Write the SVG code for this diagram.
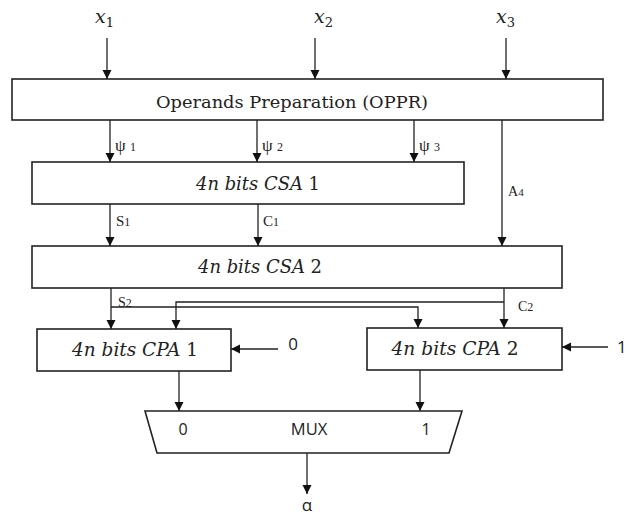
<svg xmlns="http://www.w3.org/2000/svg" width="629" height="516" viewBox="0 0 629 516">
<defs>
<marker id="ah" viewBox="0 0 10 10" refX="10" refY="5" markerWidth="9" markerHeight="10" markerUnits="userSpaceOnUse" orient="auto">
<path d="M0,0 L10,5 L0,10 z" fill="#111"/>
</marker>
<style>
.box{fill:#fff;stroke:#222;stroke-width:1.6}
.ar{fill:none;stroke:#222;stroke-width:1.3;marker-end:url(#ah)}
.t{font-family:"DejaVu Serif","Liberation Serif",serif;fill:#222}
.it{font-style:italic}
.s{font-family:"Liberation Serif","DejaVu Serif",serif;fill:#222}
.sans{font-family:"Open Sans","Liberation Sans",sans-serif;fill:#222}
</style>
</defs>
<rect width="629" height="516" fill="#fff"/>

<g id="inputs">
<text class="t it" x="95" y="23" font-size="19">x<tspan font-style="normal" font-size="13" dy="4">1</tspan></text>
<text class="t it" x="314" y="23" font-size="19">x<tspan font-style="normal" font-size="13" dy="4">2</tspan></text>
<text class="t it" x="496" y="23" font-size="19">x<tspan font-style="normal" font-size="13" dy="4">3</tspan></text>
</g>

<g id="oppr">
<rect class="box" x="12" y="79" width="591" height="41"/>
<text class="t" x="292" y="108" font-size="17.5" text-anchor="middle" textLength="272" lengthAdjust="spacingAndGlyphs">Operands Preparation (OPPR)</text>
</g>

<g id="csa1">
<rect class="box" x="32" y="162" width="432" height="42"/>
<text class="t" x="258" y="190" font-size="18" text-anchor="middle" textLength="124" lengthAdjust="spacingAndGlyphs"><tspan class="it">4n bits CSA</tspan> 1</text>
</g>

<g id="csa2">
<rect class="box" x="32" y="246" width="530" height="42"/>
<text class="t" x="260" y="273" font-size="18" text-anchor="middle" textLength="124" lengthAdjust="spacingAndGlyphs"><tspan class="it">4n bits CSA</tspan> 2</text>
</g>

<g id="cpa1">
<rect class="box" x="37" y="329" width="194" height="42"/>
<text class="t" x="135" y="356" font-size="18" text-anchor="middle" textLength="126" lengthAdjust="spacingAndGlyphs"><tspan class="it">4n bits CPA</tspan> 1</text>
</g>

<g id="cpa2">
<rect class="box" x="367" y="328" width="195" height="42"/>
<text class="t" x="455" y="355" font-size="18" text-anchor="middle" textLength="127" lengthAdjust="spacingAndGlyphs"><tspan class="it">4n bits CPA</tspan> 2</text>
</g>

<g id="mux">
<path class="box" d="M145,411 L462,411 L449,453 L157,453 z"/>
<text class="sans" x="183" y="435" font-size="16" text-anchor="middle">0</text>
<text class="sans" x="309" y="435" font-size="16.5" text-anchor="middle">MUX</text>
<text class="sans" x="426" y="435" font-size="16" text-anchor="middle">1</text>
</g>

<g id="connectors">
<line class="ar" x1="107" y1="38" x2="107" y2="79"/>
<line class="ar" x1="315" y1="38" x2="315" y2="79"/>
<line class="ar" x1="506" y1="38" x2="506" y2="79"/>

<line class="ar" x1="110" y1="120" x2="110" y2="162"/>
<line class="ar" x1="257" y1="120" x2="257" y2="162"/>
<line class="ar" x1="414" y1="120" x2="414" y2="162"/>
<line class="ar" x1="502" y1="120" x2="502" y2="246"/>

<line class="ar" x1="110" y1="204" x2="110" y2="246"/>
<line class="ar" x1="258" y1="204" x2="258" y2="246"/>

<line class="ar" x1="111" y1="288" x2="111" y2="329"/>
<polyline class="ar" points="111,307 418,307 418,328"/>
<line class="ar" x1="504" y1="288" x2="504" y2="328"/>
<polyline class="ar" points="504,302 176,302 176,329"/>

<line class="ar" x1="278" y1="349" x2="231" y2="349"/>
<line class="ar" x1="608" y1="347" x2="562" y2="347"/>

<line class="ar" x1="179" y1="371" x2="179" y2="411"/>
<line class="ar" x1="420" y1="370" x2="420" y2="411"/>

<line class="ar" x1="307" y1="453" x2="307" y2="494"/>
</g>

<g id="labels">
<text class="s" x="115" y="151" font-size="17">ψ <tspan font-size="12">1</tspan></text>
<text class="s" x="262" y="151" font-size="17">ψ <tspan font-size="12">2</tspan></text>
<text class="s" x="419" y="151" font-size="17">ψ <tspan font-size="12">3</tspan></text>
<text class="s" x="508" y="196" font-size="14">A<tspan font-size="11">4</tspan></text>
<text class="s" x="116" y="226" font-size="15">S<tspan font-size="12">1</tspan></text>
<text class="s" x="263" y="226" font-size="15">C<tspan font-size="12">1</tspan></text>
<text class="s" x="118" y="307" font-size="14">S<tspan font-size="12">2</tspan></text>
<text class="s" x="518" y="311" font-size="14">C<tspan font-size="12">2</tspan></text>
<text class="sans" x="293" y="350" text-anchor="middle" font-size="17">0</text>
<text class="sans" x="617" y="353" font-size="17">1</text>
<text class="sans" x="307" y="511" text-anchor="middle" font-size="17">α</text>
</g>
</svg>
